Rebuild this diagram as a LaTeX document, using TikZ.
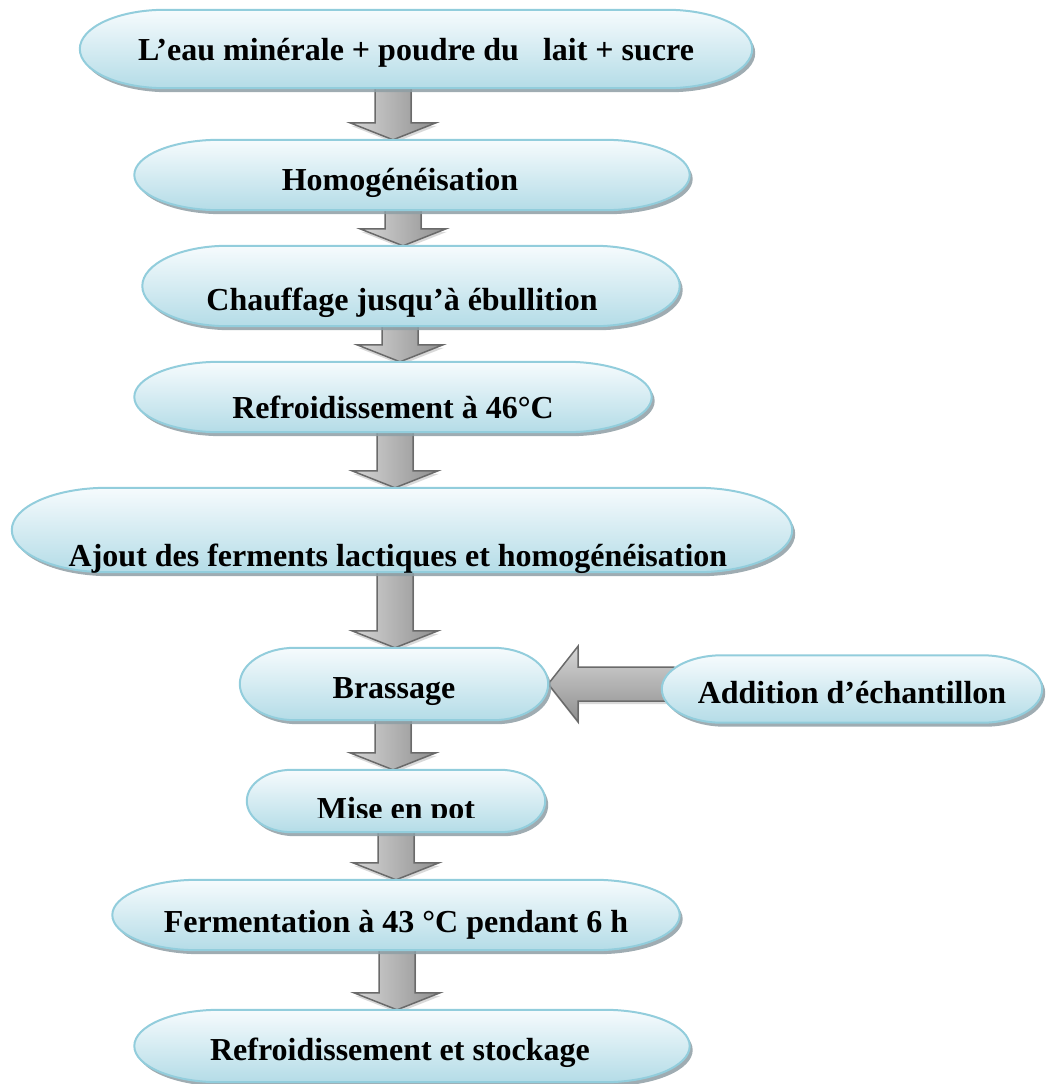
\documentclass[tikz,border=0pt]{standalone}
\usepackage{fontspec}
\setmainfont{Liberation Serif}
\usetikzlibrary{calc,shadows}
\pgfdeclarelayer{fleches}
\pgfdeclarelayer{formes}
\pgfsetlayers{fleches,formes,main}
\definecolor{cHaut}  {HTML}{F6FBFD}
\definecolor{cBas}   {HTML}{B4DCE7}
\definecolor{cBord}  {HTML}{92CDDC}
\definecolor{cOmbre} {HTML}{8E9EA4}
\definecolor{cFlC}   {HTML}{D6D6D6}
\definecolor{cFlF}   {HTML}{8F8F8F}
\definecolor{cFlBord}{HTML}{6A6A6A}

% pill outline with elliptical ends round node #2, end radius #1
\newcommand\forme[2][85]{%
  \path[pilule] let \p1=(#2.north), \p2=(#2.south), \n1={(\y1-\y2)/2} in
    ([xshift=#1pt]#2.north west) -- ([xshift=-#1pt]#2.north east)
    arc[start angle=90, end angle=-90, x radius=#1pt, y radius=\n1]
    -- ([xshift=#1pt]#2.south west)
    arc[start angle=270, end angle=90, x radius=#1pt, y radius=\n1] -- cycle;
}
% block arrow pointing down, on a vertical axis at x = #1
\newcommand\flecheBas[3][396]{%
  \coordinate (hautF) at (#1,0 |- #2.south);
  \coordinate (basF)  at (#1,0 |- #3.north);
  \path[flecheV] ([xshift=-18pt,yshift=2pt]hautF) -- ([xshift=-18pt,yshift=17pt]basF)
    -- ([xshift=-43pt,yshift=17pt]basF) -- (basF) -- ([xshift=43pt,yshift=17pt]basF)
    -- ([xshift=18pt,yshift=17pt]basF) -- ([xshift=18pt,yshift=2pt]hautF) -- cycle;
}
% block arrow pointing left, from #1 into #2
\newcommand\flecheGauche[2]{%
  \coordinate (departF) at (#1.west |- #2.east);
  \coordinate (pointeF) at (#2.east);
  \path[flecheH] ([xshift=12pt,yshift=17pt]departF) -- ([xshift=30pt,yshift=17pt]pointeF)
    -- ([xshift=30pt,yshift=38pt]pointeF) -- (pointeF) -- ([xshift=30pt,yshift=-38pt]pointeF)
    -- ([xshift=30pt,yshift=-17pt]pointeF) -- ([xshift=12pt,yshift=-17pt]departF) -- cycle;
}

\begin{document}
\begin{tikzpicture}[
  x=1pt, y=-1pt,
  font=\fontsize{32}{38}\selectfont\bfseries,
  etape/.style n args={3}{
    inner sep=0pt, align=center, text depth=6pt,
    minimum width=#1pt, minimum height=#2pt, text height=#3pt},
  pilule/.style={draw=cBord, line width=2pt, top color=cHaut, bottom color=cBas,
    drop shadow={shadow xshift=3pt, shadow yshift=-4pt, fill=cOmbre, opacity=0.85}},
  fleche/.style={draw=cFlBord, line width=1.5pt, line join=miter,
    drop shadow={shadow xshift=1pt, shadow yshift=-3pt, fill=black!25, opacity=0.6}},
  flecheV/.style={fleche, left color=cFlC, right color=cFlF},
  flecheH/.style={fleche, top color=cFlC, bottom color=cFlF},
]
\useasboundingbox (0,0) rectangle (1045,1084);

% ---------------------------------------------------------------- etapes
\node[etape={672}{78}{28}] (melange) at (416,49)  {L’eau minérale + poudre du\hspace{0.75em}lait + sucre};
\node[etape={555}{70}{36}] (homog)   at (412,175) {\hspace*{-24pt}Homogénéisation};
\node[etape={537}{80}{54}] (chauf)   at (411,286) {\hspace*{-18pt}Chauffage jusqu’à ébullition};
\node[etape={517}{70}{48}] (refr)    at (393,397) {Refroidissement à 46°C};
\node[etape={780}{84}{78}] (ajout)   at (402,530) {\hspace*{-8pt}Ajout des ferments lactiques et homogénéisation};
\node[etape={308}{72}{34}] (brass)   at (394,684) {Brassage};
\node[etape={380}{67}{34}] (addit)   at (852,689) {Addition d’échantillon};
\node[etape={298}{62}{6}, path picture={
    \clip (path picture bounding box.north west) rectangle ([yshift=-16pt]path picture bounding box.east);
    \node[anchor=base] (potTxt) at ([yshift=-18pt]path picture bounding box.center) {Mise en pot};
  }] (pot) at (396,801) {};
\node[etape={567}{70}{40}] (ferm)    at (396,915)  {Fermentation à 43 °C pendant 6 h};
\node[etape={555}{72}{34}] (stock)   at (412,1046) {\hspace*{-24pt}Refroidissement et stockage};

% ---------------------------------------------------------------- formes
\begin{pgfonlayer}{formes}
  \forme{melange}
  \forme{homog}
  \forme{chauf}
  \forme{refr}
  \forme[95]{ajout}
  \forme[55]{brass}
  \forme[60]{addit}
  \forme[45]{pot}
  \forme{ferm}
  \forme{stock}
\end{pgfonlayer}

% ---------------------------------------------------------------- fleches
\begin{pgfonlayer}{fleches}
  \flecheBas[393]{melange}{homog}
  \flecheBas[403]{homog}{chauf}
  \flecheBas[400]{chauf}{refr}
  \flecheBas[395]{refr}{ajout}
  \flecheBas[395]{ajout}{brass}
  \flecheBas[393]{brass}{pot}
  \flecheBas[396]{pot}{ferm}
  \flecheBas[397]{ferm}{stock}
  \flecheGauche{addit}{brass}
\end{pgfonlayer}

\end{tikzpicture}
\end{document}
